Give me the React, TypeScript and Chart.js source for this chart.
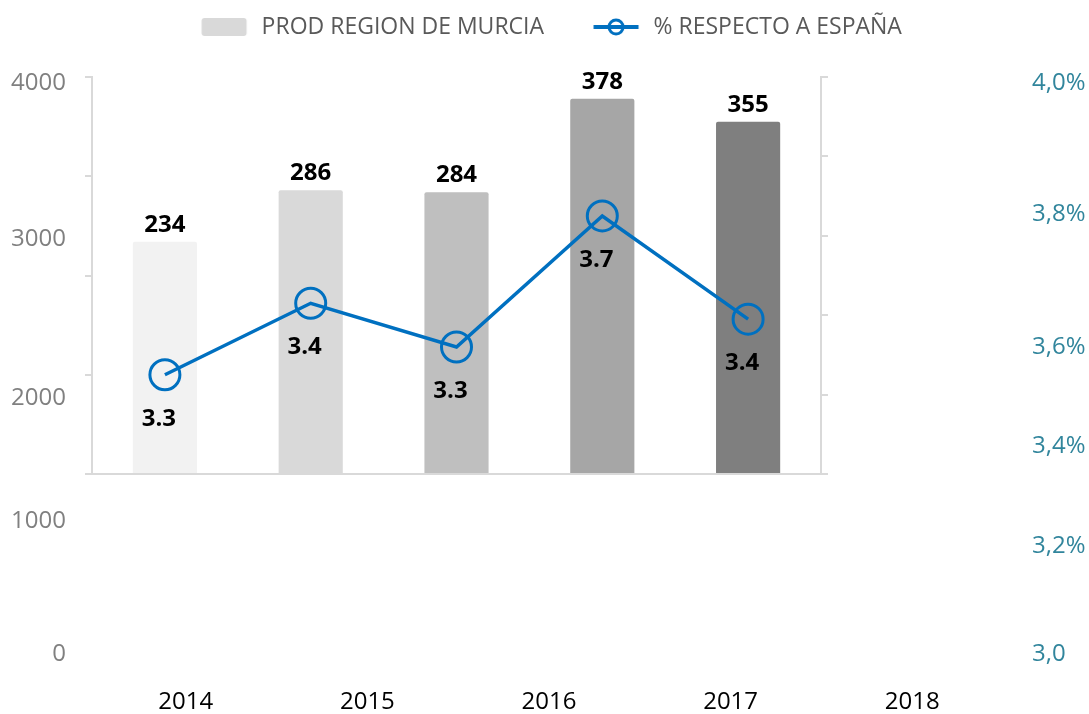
import React, { useEffect, useRef } from 'react';
import { Chart, registerables } from 'chart.js';

Chart.register(...registerables);

// ---------- data ----------
const YEARS = ['2014', '2015', '2016', '2017', '2018'];
const PROD = [234, 286, 284, 378, 355];
const PCT = [3.25, 3.43, 3.32, 3.65, 3.39];
const SERIES_BAR = 'PROD REGION DE MURCIA';
const SERIES_LINE = '% RESPECTO A ESPAÑA';
const LEFT_TICK_LABELS = ['0', '1000', '2000', '3000', '4000'];
const RIGHT_TICK_LABELS = ['3,0', '3,2%', '3,4%', '3,6%', '3,8%', '4,0%'];

// ---------- styles / layout ----------
const BAR_COLORS = ['#f2f2f2', '#d9d9d9', '#bfbfbf', '#a6a6a6', '#7f7f7f'];
const LINE_COLOR = '#0070C0';
const AXIS_COLOR = '#d9d9d9';
const FONT = "'Open Sans', sans-serif";
const W = 1089;
const H = 714;
// positions (fraction of the outer axis) of the detached outer tick labels
const LEFT_TICK_POS = [0, 0.233, 0.448, 0.726, 1];
const RIGHT_TICK_POS = [0, 0.189, 0.364, 0.538, 0.771, 1];

function roundRectPath(ctx: CanvasRenderingContext2D, x: number, y: number, w: number, h: number, r: number) {
  ctx.beginPath();
  ctx.moveTo(x + r, y);
  ctx.lineTo(x + w - r, y);
  ctx.quadraticCurveTo(x + w, y, x + w, y + r);
  ctx.lineTo(x + w, y + h - r);
  ctx.quadraticCurveTo(x + w, y + h, x + w - r, y + h);
  ctx.lineTo(x + r, y + h);
  ctx.quadraticCurveTo(x, y + h, x, y + h - r);
  ctx.lineTo(x, y + r);
  ctx.quadraticCurveTo(x, y, x + r, y);
  ctx.closePath();
}

const LEG_W = 88;
function makeLegendImages() {
  const mk = () => {
    const c = document.createElement('canvas');
    c.width = LEG_W;
    c.height = 24;
    return c;
  };
  const x0 = LEG_W - 48.5;
  const a = mk();
  const ca = a.getContext('2d')!;
  ca.fillStyle = '#d9d9d9';
  roundRectPath(ca, x0, 3, 45, 18, 3);
  ca.fill();
  const b = mk();
  const cb = b.getContext('2d')!;
  cb.strokeStyle = LINE_COLOR;
  cb.lineWidth = 4;
  cb.beginPath();
  cb.moveTo(x0, 12);
  cb.lineTo(x0 + 45, 12);
  cb.stroke();
  cb.lineWidth = 3;
  cb.beginPath();
  cb.arc(x0 + 22.5, 12, 7, 0, Math.PI * 2);
  cb.stroke();
  return [a, b];
}

const fmt1 = (v: number) => (Math.round(v * 10) / 10).toFixed(1);

const valueLabels = {
  id: 'valueLabels',
  afterDatasetsDraw(chart: any) {
    const ctx = chart.ctx as CanvasRenderingContext2D;
    ctx.save();
    ctx.font = `bold 24px ${FONT}`;
    ctx.fillStyle = '#000000';
    ctx.textAlign = 'center';
    ctx.textBaseline = 'middle';
    const barData = chart.data.datasets[0].data as number[];
    chart.getDatasetMeta(0).data.forEach((el: any, i: number) => {
      ctx.fillText(String(barData[i]), el.x, el.y - 17);
    });
    const lineData = chart.data.datasets[1].data as number[];
    chart.getDatasetMeta(1).data.forEach((el: any, i: number) => {
      ctx.fillText(fmt1(lineData[i]), el.x - 6, el.y + 44);
    });
    ctx.restore();
  },
};

export default function App() {
  const outerRef = useRef<HTMLCanvasElement>(null);
  const innerRef = useRef<HTMLCanvasElement>(null);

  useEffect(() => {
    const tickFont = { family: FONT, size: 24 };

    const outer = new Chart(outerRef.current!, {
      type: 'bar',
      data: { labels: YEARS, datasets: [] },
      options: {
        responsive: false,
        animation: false,
        devicePixelRatio: 1,
        events: [],
        layout: { padding: { top: 83, left: 0, right: 0, bottom: 0 } },
        plugins: { legend: { display: false }, tooltip: { enabled: false } },
        scales: {
          x: {
            type: 'category',
            position: 'bottom',
            offset: true,
            grid: { display: false, drawTicks: false },
            border: { display: false },
            ticks: { font: tickFont, color: '#000000', padding: 34, maxRotation: 0, autoSkip: false },
            afterFit: (s: any) => { s.height = 60; },
          },
          y: { display: false },
          yL: {
            type: 'linear',
            axis: 'y',
            position: 'left',
            min: 0,
            max: 1,
            grid: { display: false, drawTicks: false },
            border: { display: false },
            afterBuildTicks: (s: any) => { s.ticks = LEFT_TICK_POS.map((v) => ({ value: v })); },
            ticks: {
              autoSkip: false,
              font: tickFont,
              color: '#808080',
              padding: 29,
              callback: (_v: any, i: number) => LEFT_TICK_LABELS[i],
            },
            afterFit: (s: any) => { s.width = 95; },
          },
          yR: {
            type: 'linear',
            axis: 'y',
            position: 'right',
            min: 0,
            max: 1,
            grid: { display: false, drawTicks: false },
            border: { display: false },
            afterBuildTicks: (s: any) => { s.ticks = RIGHT_TICK_POS.map((v) => ({ value: v })); },
            ticks: {
              autoSkip: false,
              font: tickFont,
              color: '#31859C',
              padding: 29,
              callback: (_v: any, i: number) => RIGHT_TICK_LABELS[i],
            },
            afterFit: (s: any) => { s.width = 86; },
          },
        } as any,
      },
    });

    const [imgBar, imgLine] = makeLegendImages();

    const inner = new Chart(innerRef.current!, {
      type: 'bar',
      data: {
        labels: YEARS,
        datasets: [
          {
            type: 'bar',
            label: SERIES_BAR,
            data: PROD,
            backgroundColor: BAR_COLORS,
            borderRadius: 2,
            borderSkipped: 'bottom',
            barPercentage: 0.44,
            categoryPercentage: 1,
            yAxisID: 'y',
            order: 2,
          },
          {
            type: 'line',
            label: SERIES_LINE,
            data: PCT,
            yAxisID: 'y1',
            borderColor: LINE_COLOR,
            borderWidth: 3.5,
            pointRadius: 15,
            pointBorderWidth: 3,
            pointBorderColor: LINE_COLOR,
            pointBackgroundColor: 'rgba(0,0,0,0)',
            tension: 0,
            order: 1,
          },
        ] as any,
      },
      options: {
        responsive: false,
        animation: false,
        devicePixelRatio: 1,
        events: [],
        layout: { padding: { top: 5.5, left: 0, right: 25, bottom: 0 } },
        plugins: {
          legend: {
            display: true,
            position: 'top',
            labels: {
              usePointStyle: true,
              pointStyleWidth: LEG_W,
              padding: 10,
              color: '#595959',
              font: { family: FONT, size: 23 },
              generateLabels: () => [
                { text: SERIES_BAR, pointStyle: imgBar, fillStyle: '#d9d9d9', strokeStyle: '#d9d9d9', lineWidth: 0, hidden: false, datasetIndex: 0, fontColor: '#595959' },
                { text: SERIES_LINE, pointStyle: imgLine, fillStyle: LINE_COLOR, strokeStyle: LINE_COLOR, lineWidth: 0, hidden: false, datasetIndex: 1, fontColor: '#595959' },
              ] as any,
            },
          },
          title: {
            display: true,
            text: '',
            position: 'top',
            weight: 500,
            padding: 0,
            font: { size: 10, lineHeight: 2.85 },
          } as any,
          tooltip: { enabled: false },
        },
        scales: {
          x: {
            offset: true,
            grid: { display: false },
            border: { display: true, color: AXIS_COLOR, width: 2 },
            ticks: { display: false },
            afterFit: (s: any) => { s.height = 240; },
          },
          y: {
            position: 'left',
            min: 0,
            max: 400,
            ticks: { display: false, stepSize: 100 },
            grid: { drawOnChartArea: false, drawTicks: true, tickLength: 7, color: AXIS_COLOR, lineWidth: 2 },
            border: { display: true, color: AXIS_COLOR, width: 2 },
            afterFit: (s: any) => { s.width = 92; },
          },
          y1: {
            position: 'right',
            min: 3,
            max: 4,
            ticks: { display: false, stepSize: 0.2 },
            grid: { drawOnChartArea: false, drawTicks: true, tickLength: 7, color: AXIS_COLOR, lineWidth: 2 },
            border: { display: true, color: AXIS_COLOR, width: 2 },
            afterFit: (s: any) => { s.width = 243; },
          },
        } as any,
      },
      plugins: [valueLabels],
    });

    return () => {
      outer.destroy();
      inner.destroy();
    };
  }, []);

  return (
    <div style={{ position: 'fixed', left: 0, top: 0, width: W, height: H, background: '#ffffff', overflow: 'hidden' }}>
      <canvas ref={outerRef} width={W} height={H} style={{ position: 'absolute', left: 0, top: 0 }} />
      <canvas ref={innerRef} width={W} height={H} style={{ position: 'absolute', left: 0, top: 0 }} />
    </div>
  );
}
